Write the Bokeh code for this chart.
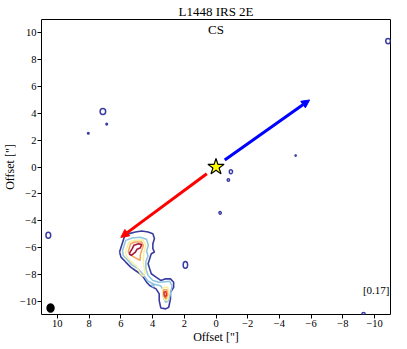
from bokeh.plotting import figure
from bokeh.models import Range1d, Arrow, NormalHead, FixedTicker, Label
from bokeh.embed import file_html
from bokeh.resources import INLINE

# ---- data (offsets in arcsec) ----
ticks = [10, 8, 6, 4, 2, 0, -2, -4, -6, -8, -10]

# outer (lowest) contour of main structure
c1_x = [6.08, 5.78, 5.48, 5.08, 4.68, 4.28, 3.98, 3.88, 3.98, 3.98, 3.88, 4.08, 4.18, 4.28, 4.18, 4.08,
        3.78, 3.48, 3.17, 2.87, 2.67, 2.67, 2.87, 2.87, 2.98, 3.17, 3.48, 3.58, 3.58, 3.78, 3.98, 4.18,
        4.38, 4.58, 4.78, 5.08, 5.38, 5.69, 5.99, 6.08]
c1_y = [-6.34, -5.22, -4.97, -4.85, -4.77, -4.85, -4.97, -5.34, -5.72, -6.09, -6.34, -6.47, -6.84, -7.21,
        -7.59, -7.96, -8.21, -8.46, -8.34, -8.34, -8.59, -8.97, -9.34, -9.84, -10.46, -10.58, -10.51, -9.96,
        -9.46, -9.09, -8.97, -8.84, -8.59, -8.21, -7.96, -7.72, -7.47, -7.09, -6.72, -6.34]

# second contour
c2_x = [5.89, 5.69, 5.28, 4.78, 4.38, 4.26, 4.38, 4.28, 4.42, 4.42, 4.28, 3.98, 3.6, 3.2, 2.92, 2.77,
        2.87, 2.98, 3.17, 3.31, 3.37, 3.5, 3.9, 4.3, 4.6, 4.9, 5.3, 5.6, 5.85, 5.89]
c2_y = [-6.22, -5.47, -5.29, -5.24, -5.39, -5.84, -6.29, -6.64, -7.04, -7.59, -8.09, -8.46, -8.6, -8.55,
        -8.52, -8.84, -9.46, -9.96, -10.1, -9.72, -9.09, -8.85, -8.75, -8.5, -8.0, -7.6, -7.3, -6.9, -6.6, -6.22]
c2b_x = [4.05, 3.95, 3.9, 3.98, 4.05]
c2b_y = [-8.75, -8.72, -8.85, -8.95, -8.75]

# third contour
c3_x = [5.69, 5.48, 5.08, 4.58, 4.42, 4.54, 4.58, 4.55, 4.45, 4.6, 4.8, 5.0, 5.3, 5.55, 5.7, 5.69]
c3_y = [-6.22, -5.59, -5.47, -5.47, -5.84, -6.34, -6.84, -7.4, -7.9, -8.15, -7.9, -7.4, -7.1, -6.8, -6.5, -6.22]
c3b_x = [3.35, 3.05, 2.95, 3.05, 3.25, 3.35, 3.35]
c3b_y = [-9.0, -8.95, -9.4, -9.95, -9.9, -9.5, -9.0]

# fourth contour
c4_x = [5.54, 5.38, 5.08, 4.68, 4.58, 4.68, 4.78, 4.78, 4.98, 5.28, 5.54]
c4_y = [-6.34, -5.72, -5.59, -5.59, -5.84, -6.22, -6.59, -6.97, -6.84, -6.64, -6.34]
c4b_x = [3.3, 3.1, 3.05, 3.15, 3.3, 3.3]
c4b_y = [-9.15, -9.15, -9.5, -9.85, -9.6, -9.15]

# fifth contour
c5_x = [3.27, 3.15, 3.12, 3.2, 3.28, 3.27]
c5_y = [-9.3, -9.3, -9.55, -9.7, -9.45, -9.3]

# sixth contour
c6_x = [5.48, 5.28, 5.18, 4.88, 4.68, 4.78, 4.98, 5.08, 5.34, 5.48]
c6_y = [-6.47, -6.09, -5.84, -5.72, -5.79, -6.04, -6.14, -6.34, -6.59, -6.47]

# small isolated islands (lowest contour)
isl_x = [7.13, 6.89, 8.05, 10.57, -10.85, -0.94, -0.78, -0.26, -5.02, 1.93, -9.3]
isl_y = [4.14, 3.2, 2.52, -5.09, 9.39, -0.35, -0.97, -3.42, 0.85, -7.3, -10.95]
isl_w = [0.35, 0.1, 0.1, 0.3, 0.3, 0.2, 0.15, 0.15, 0.08, 0.28, 0.2]
isl_h = [0.45, 0.12, 0.12, 0.45, 0.4, 0.3, 0.2, 0.2, 0.1, 0.5, 0.2]

# outflow arrows [x0, y0, x1, y1]
blue_arrow = [-0.55, 0.52, -5.9, 5.0]
red_arrow = [0.58, -0.5, 6.0, -5.25]

# beam
beam_x, beam_y, beam_w, beam_h = [10.43], [-10.52], [0.46], [0.63]

serif = "Liberation Serif"

p = figure(width=399, height=346, output_backend="svg", toolbar_location=None,
           x_range=Range1d(11, -11), y_range=Range1d(-11, 11),
           min_border_left=10, min_border_right=9, min_border_top=17, min_border_bottom=10,
           title="L1448 IRS 2E")
p.title.align = "center"
p.title.text_font = serif
p.title.text_font_size = "13px"
p.title.text_font_style = "normal"
p.title.text_color = "black"
p.title.standoff = 2

p.grid.visible = False
p.outline_line_color = "black"
p.outline_line_width = 1
p.background_fill_color = "white"
p.border_fill_color = "white"

for ax in (p.xaxis[0], p.yaxis[0]):
    ax.ticker = FixedTicker(ticks=ticks)
    ax.axis_label = 'Offset ["]'
    ax.axis_label_text_font = serif
    ax.axis_label_text_font_size = "12px"
    ax.axis_label_text_font_style = "normal"
    ax.axis_label_text_color = "black"
    ax.axis_label_standoff = 0
    ax.major_label_text_font = serif
    ax.major_label_text_font_size = "10.5px"
    ax.major_label_text_color = "black"
    ax.major_label_standoff = 1
    ax.major_tick_out = 4
    ax.major_tick_in = 0
    ax.major_tick_line_color = "black"
    ax.minor_tick_out = 0
    ax.minor_tick_in = 0
    ax.axis_line_color = None

blue_c = "#3a3ca0"
p.multi_line([c1_x], [c1_y], line_color=blue_c, line_width=1.6)
p.ellipse(isl_x, isl_y, width=isl_w, height=isl_h, fill_color=None, line_color=blue_c, line_width=1.5)
p.multi_line([c2_x, c2b_x], [c2_y, c2b_y], line_color="#8ec4e0", line_width=1.5)
p.multi_line([c3_x, c3b_x], [c3_y, c3b_y], line_color="#fbeea0", line_width=1.5)
p.multi_line([c4_x, c4b_x], [c4_y, c4b_y], line_color="#f7a35c", line_width=1.5)
p.multi_line([c5_x], [c5_y], line_color="#e0302a", line_width=1.5)
p.multi_line([c6_x], [c6_y], line_color="#a8183a", line_width=1.6)

for arr, col in ((blue_arrow, "#0000ff"), (red_arrow, "#ff0000")):
    p.add_layout(Arrow(x_start=arr[0], y_start=arr[1], x_end=arr[2], y_end=arr[3],
                       line_color=col, line_width=3,
                       end=NormalHead(size=8, fill_color=col, line_color=col, line_width=1)))

p.scatter([0], [0], marker="star", size=17, fill_color="#ffff00", line_color="black", line_width=1.2)

p.ellipse(beam_x, beam_y, width=beam_w, height=beam_h, fill_color="black", line_color="black")

p.add_layout(Label(x=0, y=10.85, text="CS", text_font=serif, text_font_size="13px",
                   text_font_style="normal", text_align="center", text_baseline="top",
                   text_color="black"))
p.add_layout(Label(x=-10.1, y=-9.15, text="[0.17]", text_font=serif, text_font_size="11px",
                   text_font_style="normal", text_align="center", text_baseline="middle",
                   text_color="black"))

open("out.html", "w").write(file_html(p, INLINE))
